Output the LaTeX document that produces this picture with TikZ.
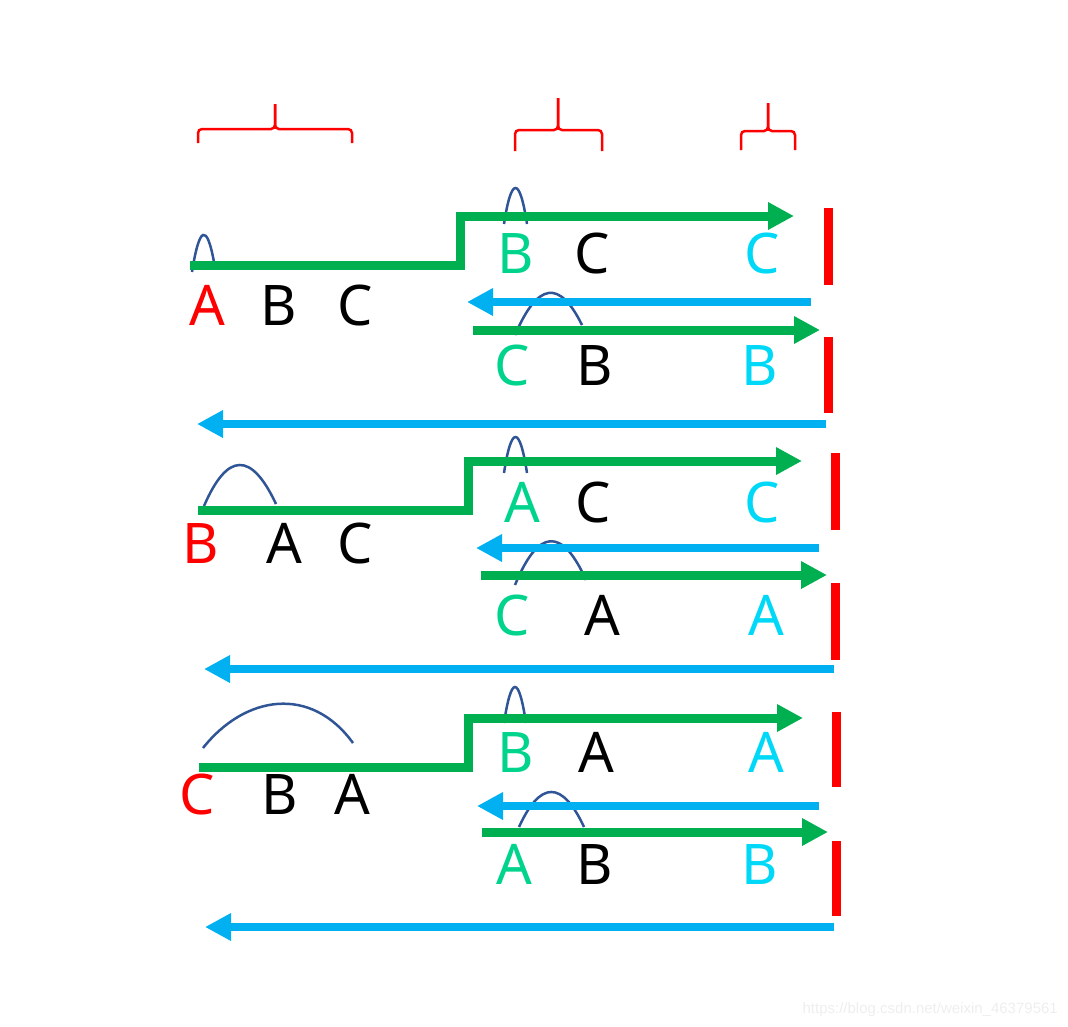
\documentclass[tikz,border=0pt]{standalone}
\usepackage{fontspec}
\setmainfont{Noto Sans}
\usetikzlibrary{arrows.meta}
\definecolor{gline}{HTML}{00B050}
\definecolor{bline}{HTML}{00B0F0}
\definecolor{rbarc}{HTML}{FF0000}
\definecolor{gtxt}{HTML}{00D48C}
\definecolor{ctxt}{HTML}{00D8F8}
\definecolor{bumpc}{HTML}{2F5597}
\definecolor{wmark}{HTML}{EEEEEE}
\tikzset{
  garrow/.style={draw=gline, line width=9pt, line join=miter, -{Triangle[length=26pt,width=26pt]}},
  barrow/.style={draw=bline, line width=8pt, -{Triangle[length=26pt,width=26pt]}},
  redbar/.style={draw=rbarc, line width=9pt},
  bracestyle/.style={draw=rbarc, line width=2.5pt, rounded corners=4pt},
  bumpstyle/.style={draw=bumpc, line width=2.5pt},
  lt/.style={font=\fontsize{56}{60}\selectfont, inner sep=0pt, anchor=base},
}
\begin{document}
\begin{tikzpicture}[x=1pt,y=-1pt]
\useasboundingbox (0,0) rectangle (1068,1026);
% braces
\draw[bracestyle] (198,143) -- (198,129) -- (275,129) -- (275,104);
\draw[bracestyle] (352,143) -- (352,129) -- (275,129) -- (275,104);
\draw[bracestyle] (515,151) -- (515,130) -- (558,130) -- (558,98);
\draw[bracestyle] (602,151) -- (602,130) -- (558,130) -- (558,98);
\draw[bracestyle] (741,150) -- (741,131) -- (768,131) -- (768,103);
\draw[bracestyle] (795,150) -- (795,131) -- (768,131) -- (768,103);

% ---------- row 1 ----------
\draw[bumpstyle] (192,272) .. controls (199.3,226) and (206.7,222.7) .. (214,262);
\draw[bumpstyle] (504,224) .. controls (511.3,176) and (519.7,176) .. (527,224);
\draw[bumpstyle] (515,335) .. controls (537.7,282.3) and (559.3,279) .. (582,325);
\draw[garrow] (190,265) -- (460,265) -- (460,216) -- (794,216);
\draw[barrow] (811,302) -- (467,302);
\draw[garrow] (473,330) -- (820,330);
\draw[barrow] (826,424) -- (197,424);
\draw[redbar] (828,208) -- (828,285);
\draw[redbar] (828,337) -- (828,413);
\node[lt, text=gtxt] (r1t1) at (516,273) {B};
\node[lt] (r1t2) at (592,273) {C};
\node[lt, text=ctxt] (r1t3) at (762,273) {C};
\node[lt, text=rbarc] (r1l1) at (207,325) {A};
\node[lt] (r1l2) at (279,325) {B};
\node[lt] (r1l3) at (355,325) {C};
\node[lt, text=gtxt] (r1b1) at (512,385) {C};
\node[lt] (r1b2) at (595,385) {B};
\node[lt, text=ctxt] (r1b3) at (760,385) {B};

% ---------- row 2 ----------
\draw[bumpstyle] (204,506) .. controls (227.3,452) and (251.3,451.3) .. (276,504);
\draw[bumpstyle] (504,473) .. controls (511.3,425) and (519.7,425) .. (527,473);
\draw[bumpstyle] (515,585) .. controls (538.3,528.3) and (562,526.7) .. (586,580);
\draw[garrow] (198,510) -- (468,510) -- (468,461) -- (802,461);
\draw[barrow] (819,548) -- (476,548);
\draw[garrow] (481,575) -- (827,575);
\draw[barrow] (834,669) -- (204,669);
\draw[redbar] (835.5,453) -- (835.5,530);
\draw[redbar] (835.5,583) -- (835.5,660);
\node[lt, text=gtxt] (r2t1) at (522,522) {A};
\node[lt] (r2t2) at (593,522) {C};
\node[lt, text=ctxt] (r2t3) at (762,522) {C};
\node[lt, text=rbarc] (r2l1) at (201,563) {B};
\node[lt] (r2l2) at (284,563) {A};
\node[lt] (r2l3) at (355,563) {C};
\node[lt, text=gtxt] (r2b1) at (512,635) {C};
\node[lt] (r2b2) at (602,635) {A};
\node[lt, text=ctxt] (r2b3) at (766,635) {A};

% ---------- row 3 ----------
\draw[bumpstyle] (203,748) .. controls (245,695) and (311,685) .. (353,743);
\draw[bumpstyle] (504,723) .. controls (511.3,675) and (518.7,675) .. (526,723);
\draw[bumpstyle] (519,827) .. controls (540.3,780.3) and (562.3,780.3) .. (584,827);
\draw[garrow] (199,767) -- (468,767) -- (468,718) -- (803,718);
\draw[barrow] (819,806) -- (477,806);
\draw[garrow] (482,832) -- (828,832);
\draw[barrow] (834,927) -- (205,927);
\draw[redbar] (836,712) -- (836,787);
\draw[redbar] (836,841) -- (836,916);
\node[lt, text=gtxt] (r3t1) at (516,772) {B};
\node[lt] (r3t2) at (596,772) {A};
\node[lt, text=ctxt] (r3t3) at (766,772) {A};
\node[lt, text=rbarc] (r3l1) at (197,814) {C};
\node[lt] (r3l2) at (280,814) {B};
\node[lt] (r3l3) at (352,814) {A};
\node[lt, text=gtxt] (r3b1) at (514,884) {A};
\node[lt] (r3b2) at (595,884) {B};
\node[lt, text=ctxt] (r3b3) at (760,884) {B};

% watermark
\node[font=\fontspec{Liberation Sans}\fontsize{15}{18}\selectfont, text=wmark, inner sep=0pt, anchor=base east] (wm) at (1058,1013) {https://blog.csdn.net/weixin\_46379561};
\end{tikzpicture}
\end{document}
